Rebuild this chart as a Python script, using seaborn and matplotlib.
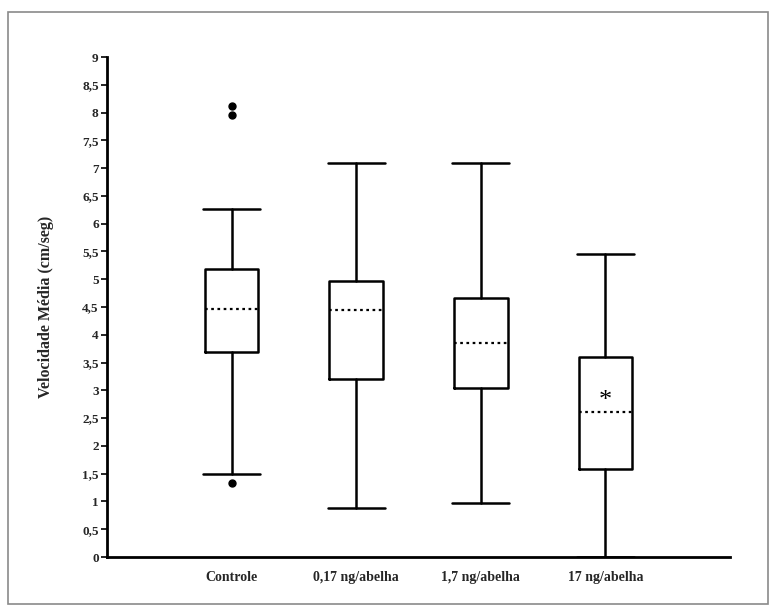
import matplotlib
matplotlib.use("Agg")
import matplotlib.pyplot as plt
from matplotlib.patches import Rectangle
from matplotlib.ticker import FuncFormatter, MultipleLocator
import seaborn as sns

# Treatment groups
categories = ["Controle", "0,17 ng/abelha", "1,7 ng/abelha", "17 ng/abelha"]
# Box statistics (cm/seg)
whisker_low = [1.50, 0.88, 0.98, 0.00]
q1 = [3.69, 3.20, 3.04, 1.58]
center_line = [4.46, 4.44, 3.85, 2.61]
q3 = [5.18, 4.96, 4.66, 3.60]
whisker_high = [6.26, 7.10, 7.10, 5.45]
outliers = [[8.12, 7.96, 1.33], [], [], []]
# Significance mark
signif_group = 3
signif_value = 2.80

sns.set_theme(style="white")
plt.rcParams["font.family"] = ["Liberation Serif", "DejaVu Serif"]
plt.rcParams["font.weight"] = "bold"

fig = plt.figure(figsize=(7.8, 6.1), dpi=100)
ax = fig.add_axes([107 / 780, 1 - 557 / 610, 623 / 780, 500 / 610])

stats = []
for i, name in enumerate(categories):
    stats.append(dict(label=name, whislo=whisker_low[i], q1=q1[i], med=center_line[i],
                      q3=q3[i], whishi=whisker_high[i], fliers=outliers[i]))

ax.bxp(stats, positions=range(len(categories)), widths=0.43, capwidths=0.46,
       showfliers=True,
       boxprops=dict(color="black", linewidth=1.8),
       whiskerprops=dict(color="black", linewidth=1.8),
       capprops=dict(color="black", linewidth=1.8),
       medianprops=dict(color="black", linewidth=1.6, linestyle=(0, (1.2, 1.6))),
       flierprops=dict(marker="o", markerfacecolor="black", markeredgecolor="black",
                       markersize=5, linestyle="none"))

ax.text(signif_group, signif_value, "*", ha="center", va="center", fontsize=19,
        fontweight="normal", color="black")

ax.set_xlim(-1, 4)
ax.set_ylim(0, 9)
ax.set_xticks(range(len(categories)))
ax.set_xticklabels(categories, fontsize=10, fontweight="bold")
ax.yaxis.set_major_locator(MultipleLocator(0.5))
ax.yaxis.set_major_formatter(FuncFormatter(
    lambda v, _: (f"{v:.0f}" if abs(v - round(v)) < 1e-9 else f"{v:.1f}".replace(".", ","))))
for lab in ax.get_yticklabels():
    lab.set_fontweight("bold")
ax.tick_params(axis="y", which="major", direction="out", length=4, width=1.2,
               labelsize=9.5, pad=2, left=True, color="black")
ax.tick_params(axis="x", length=0, pad=10)
ax.set_ylabel("Velocidade Média (cm/seg)", fontsize=11.5, fontweight="bold", labelpad=20)
ax.set_xlabel("")

for side in ["top", "right"]:
    ax.spines[side].set_visible(False)
for side in ["left", "bottom"]:
    ax.spines[side].set_color("black")
    ax.spines[side].set_linewidth(2.0)
ax.grid(False)

# Outer frame around the figure
fig.patches.append(Rectangle((8 / 780, 1 - 604 / 610), 760 / 780, 592 / 610,
                             transform=fig.transFigure, fill=False,
                             edgecolor="#8a8a8a", linewidth=1.2))

fig.savefig("out.png", dpi=100)
